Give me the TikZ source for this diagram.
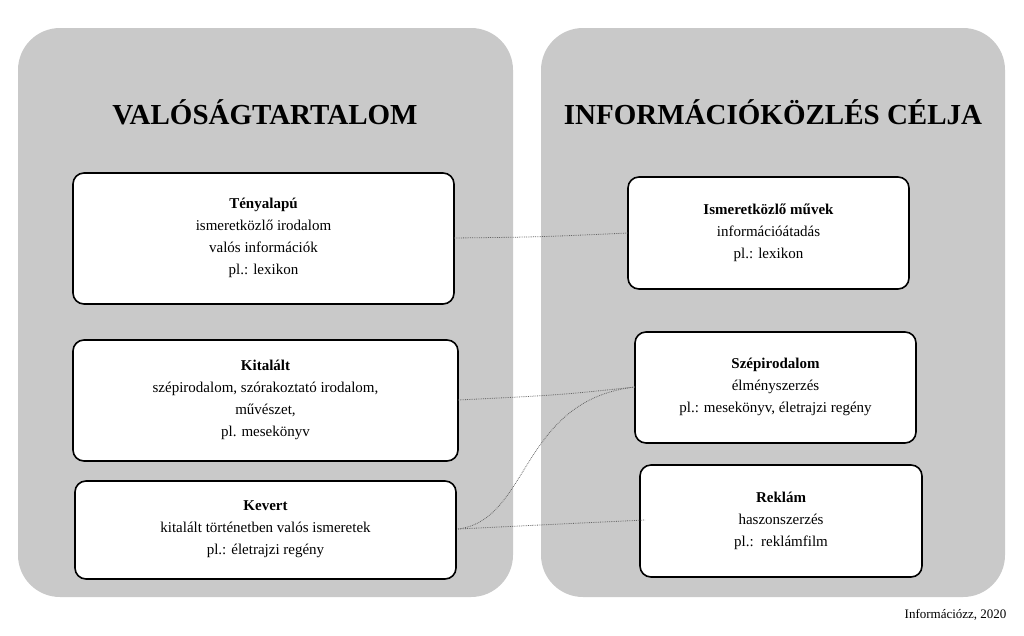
\documentclass[tikz,border=0pt]{standalone}
\usepackage{fontspec}
\setmainfont{Liberation Serif}
\begin{document}
\begin{tikzpicture}[x=1pt,y=-1pt,
 panel/.style={fill=black!21,draw=none,rounded corners=42pt},
 card/.style={draw=black,line width=1.6pt,fill=white,rounded corners=11pt},
 ttl/.style={font=\fontsize{29}{34}\selectfont\bfseries},
 txt/.style={align=center,font=\fontsize{15}{22}\selectfont},
 link/.style={densely dotted,draw=black!60,line width=0.8pt}]
\useasboundingbox (0,0) rectangle (1024,635);
\fill[panel] (18,28) rectangle (513,597);
\fill[panel] (541,28) rectangle (1005,597);
\node[ttl] (t1) at (265,112) {VALÓSÁGTARTALOM};
\node[ttl] (t2) at (773,112) {INFORMÁCIÓKÖZLÉS CÉLJA};
\draw[card] (73,173) rectangle (454,304);
\draw[card] (73,340) rectangle (458,461);
\draw[card] (75,481) rectangle (456,579);
\draw[card] (628,177) rectangle (909,289);
\draw[card] (635,332) rectangle (916,443);
\draw[card] (640,465) rectangle (922,577);
\node[txt] (ta) at (263.5,238) {\textbf{Tényalapú}\\ismeretközlő irodalom\\valós információk\\pl.: lexikon};
\node[txt] (ki) at (265.5,400) {\textbf{Kitalált}\\szépirodalom, szórakoztató irodalom,\\művészet,\\pl. mesekönyv};
\node[txt] (ke) at (265.5,529) {\textbf{Kevert}\\kitalált történetben valós ismeretek\\pl.: életrajzi regény};
\node[txt] (is) at (768.5,233) {\textbf{Ismeretközlő művek}\\információátadás\\pl.: lexikon};
\node[txt] (sz) at (775.5,387) {\textbf{Szépirodalom}\\élményszerzés\\pl.: mesekönyv, életrajzi regény};
\node[txt] (re) at (781,521) {\textbf{Reklám}\\haszonszerzés\\pl.:\ \ reklámfilm};
\coordinate (a1) at (454,238); \coordinate (b1) at (628,233);
\coordinate (a2) at (458,400); \coordinate (b2) at (635,387);
\coordinate (a3) at (458,529); \coordinate (b3) at (645,520);
\draw[link] (a1) .. controls (540,237) .. (b1);
\draw[link] (a2) .. controls (560,395) .. (b2);
\draw[link] (a3) .. controls (530,520) and (520,400) .. (b2);
\draw[link] (a3) .. controls (560,524) .. (b3);
\node[anchor=east,font=\fontsize{13}{15}\selectfont] (ft) at (1010,615) {Információzz, 2020};
\end{tikzpicture}
\end{document}
